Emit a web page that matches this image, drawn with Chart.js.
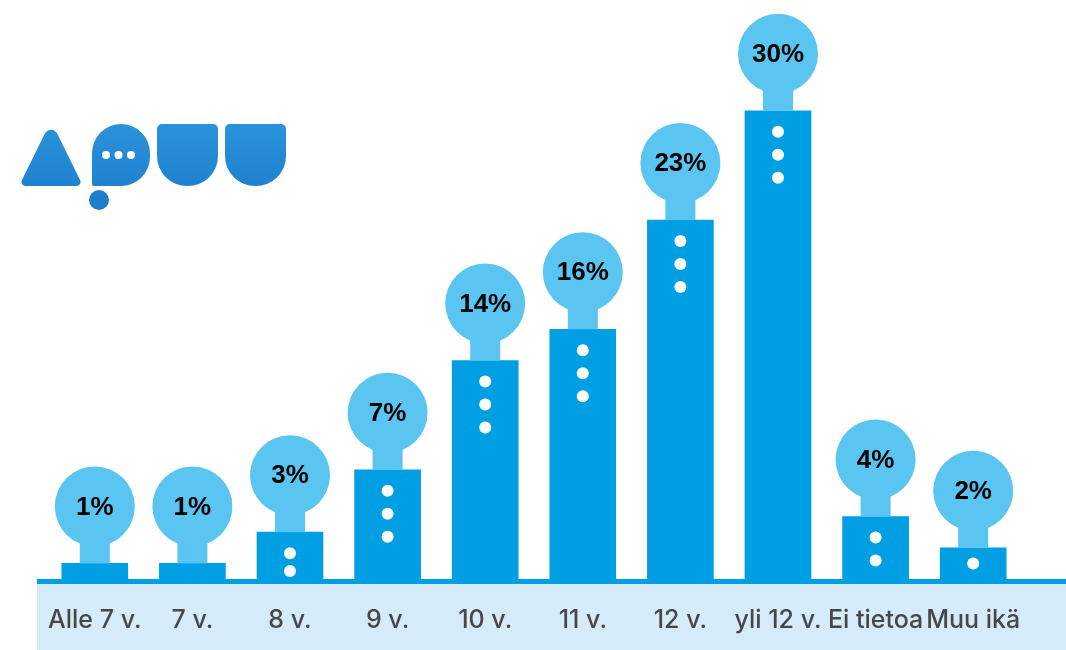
<!DOCTYPE html>
<html>
<head>
<meta charset="utf-8">
<script src="https://cdn.jsdelivr.net/npm/chart.js@4"></script>
<style>
  html, body { margin: 0; padding: 0; background: #ffffff; }
  #wrap { width: 1066px; height: 650px; position: relative; }
</style>
</head>
<body>
<div id="wrap"><canvas id="chart" width="1066" height="650"></canvas></div>
<script>
// Age groups and their shares (%)
const categories = ['Alle 7 v.', '7 v.', '8 v.', '9 v.', '10 v.', '11 v.', '12 v.', 'yli 12 v.', 'Ei tietoa', 'Muu ikä'];
const shares = [1, 1, 3, 7, 14, 16, 23, 30, 4, 2];
const shareLabels = ['1%', '1%', '3%', '7%', '14%', '16%', '23%', '30%', '4%', '2%'];

const BAR = '#009fe3';
const BUBBLE = '#5bc5f2';
const BAND = '#d5ebfa';
const FONT = 'Inter, "Liberation Sans", Arial, sans-serif';
const VALUE_FONT = '"Liberation Sans", Arial, sans-serif';

// Light band under the baseline plus the baseline rule itself
const baselinePlugin = {
  id: 'baseline',
  beforeDraw(chart) {
    const ctx = chart.ctx;
    const y = chart.chartArea.bottom;
    ctx.save();
    ctx.fillStyle = BAND;
    ctx.fillRect(37, y + 5, chart.width - 37, chart.height - y - 5);
    ctx.fillStyle = BAR;
    ctx.fillRect(37, y, chart.width - 37, 5);
    ctx.restore();
  }
};

// Balloon with the value on top of each bar, and white dots inside the bar
const balloonPlugin = {
  id: 'balloons',
  afterDatasetsDraw(chart) {
    const ctx = chart.ctx;
    const meta = chart.getDatasetMeta(0);
    ctx.save();
    meta.data.forEach((bar, i) => {
      const x = bar.x, top = bar.y, h = bar.base - bar.y;
      const cy = top - 57;
      ctx.fillStyle = BUBBLE;
      ctx.fillRect(x - 15, cy, 30, top - cy);
      ctx.beginPath();
      ctx.arc(x, cy, 40, 0, Math.PI * 2);
      ctx.fill();
      ctx.fillStyle = '#000000';
      ctx.font = 'bold 26px ' + VALUE_FONT;
      ctx.textAlign = 'center';
      ctx.textBaseline = 'middle';
      ctx.fillText(shareLabels[i], x, cy + 1);

      const n = Math.min(3, Math.floor(h / 22));
      if (n > 0) {
        const start = Math.min(21, h / 2);
        const gap = n > 1 ? Math.min(23, (h - 8 - start) / (n - 1)) : 0;
        ctx.fillStyle = '#ffffff';
        for (let k = 0; k < n; k++) {
          ctx.beginPath();
          ctx.arc(x, top + start + k * gap, 6, 0, Math.PI * 2);
          ctx.fill();
        }
      }
    });
    ctx.restore();
  }
};

// Brand mark in the upper left corner
function roundedPoly(ctx, pts, r) {
  const n = pts.length;
  ctx.beginPath();
  const m0 = [(pts[n - 1][0] + pts[0][0]) / 2, (pts[n - 1][1] + pts[0][1]) / 2];
  ctx.moveTo(m0[0], m0[1]);
  for (let i = 0; i < n; i++) {
    const p = pts[i], q = pts[(i + 1) % n];
    ctx.arcTo(p[0], p[1], q[0], q[1], r[i]);
  }
  ctx.closePath();
}
const logoPlugin = {
  id: 'logo',
  afterDraw(chart) {
    const ctx = chart.ctx;
    ctx.save();
    const g = ctx.createLinearGradient(0, 124, 0, 210);
    g.addColorStop(0, '#2a92dc');
    g.addColorStop(1, '#1b7cc9');
    ctx.fillStyle = g;
    // triangle
    roundedPoly(ctx, [[51, 121], [83, 186], [19, 186]], [7, 4, 4]);
    ctx.fill();
    // speech bubble
    roundedPoly(ctx, [[92, 124], [150, 124], [150, 186], [92, 186]], [29, 29, 29, 2]);
    ctx.fill();
    ctx.beginPath();
    ctx.arc(99, 200, 10, 0, Math.PI * 2);
    ctx.fill();
    // two cups
    [157, 225].forEach(x0 => {
      roundedPoly(ctx, [[x0, 124], [x0 + 61, 124], [x0 + 61, 186], [x0, 186]], [5, 5, 30, 30]);
      ctx.fill();
    });
    ctx.fillStyle = '#ffffff';
    [106, 118.5, 131].forEach(dx => {
      ctx.beginPath();
      ctx.arc(dx, 155, 4, 0, Math.PI * 2);
      ctx.fill();
    });
    ctx.restore();
  }
};

new Chart(document.getElementById('chart'), {
  type: 'bar',
  data: {
    labels: categories,
    datasets: [{
      data: shares,
      backgroundColor: BAR,
      borderWidth: 0,
      barThickness: 66
    }]
  },
  options: {
    responsive: false,
    animation: false,
    layout: { padding: { left: 46, right: 44, top: 0, bottom: -11 } },
    plugins: { legend: { display: false }, tooltip: { enabled: false } },
    scales: {
      x: {
        grid: { display: false, drawTicks: false },
        border: { display: false },
        ticks: {
          color: '#474747',
          font: { family: FONT, size: 25, weight: '500' },
          padding: 26,
          maxRotation: 0,
          autoSkip: false
        }
      },
      y: {
        display: false,
        min: 0,
        max: 37.1
      }
    }
  },
  plugins: [baselinePlugin, balloonPlugin, logoPlugin]
});
</script>
</body>
</html>
